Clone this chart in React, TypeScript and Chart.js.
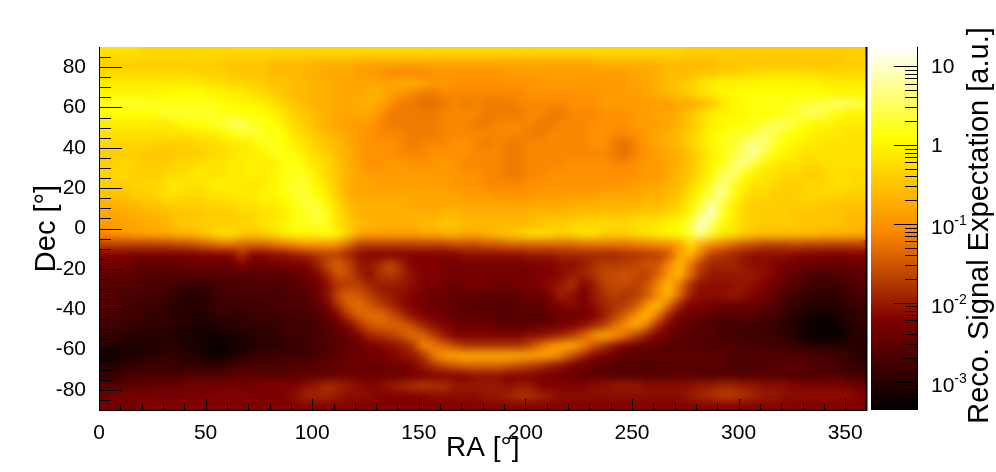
import React, { useEffect, useRef } from "react";
import { Chart, registerables } from "chart.js";

Chart.register(...registerables);

// Signal expectation per 5 degree cell, expressed as 10*log10(value). Columns: RA 2.5 .. 357.5
const decP87 = [-2,-2,-2,-2,-3,-3,-3,-3,-3,-3,-3,-3,-3,-3,-3,-3,-3,-3,-3,-3,-3,-3,-3,-3,-3,-3,-3,-3,-3,-3,-3,-3,-3,-3,-3,-3,-3,-3,-3,-3,-3,-3,-3,-3,-3,-3,-3,-3,-3,-3,-3,-3,-3,-3,-3,-4,-4,-4,-4,-4,-4,-4,-4,-4,-4,-4,-4,-4,-4,-4,-4,-4];
const decP82 = [-4,-4,-4,-4,-4,-4,-4,-4,-4,-4,-4,-4,-5,-5,-5,-5,-6,-6,-6,-6,-7,-7,-7,-7,-8,-8,-8,-8,-8,-8,-8,-8,-8,-8,-8,-8,-8,-8,-8,-8,-8,-8,-8,-8,-8,-8,-8,-7,-7,-7,-7,-7,-7,-6,-6,-6,-6,-6,-5,-5,-5,-5,-5,-5,-5,-5,-5,-5,-5,-5,-4,-4];
const decP77 = [-3,-3,-3,-3,-3,-3,-3,-3,-3,-4,-4,-4,-5,-5,-5,-5,-6,-6,-6,-7,-7,-8,-8,-8,-9,-9,-10,-11,-11,-11,-11,-10,-10,-10,-10,-10,-10,-10,-9,-9,-9,-9,-9,-9,-9,-9,-9,-9,-9,-9,-8,-8,-7,-6,-6,-6,-5,-5,-4,-4,-3,-3,-2,-2,-2,-2,-2,-3,-3,-3,-3,-3];
const decP72 = [-1,-1,-1,-1,-1,-1,-1,-1,-1,-1,-2,-2,-3,-3,-4,-4,-5,-5,-6,-6,-7,-7,-8,-8,-8,-8,-8,-8,-7,-7,-8,-9,-9,-10,-10,-10,-10,-10,-10,-10,-10,-9,-9,-9,-9,-9,-9,-9,-9,-9,-8,-8,-7,-6,-5,-4,-2,-1,0,0,0,0,0,0,0,0,0,0,-1,-1,-1,-1];
const decP67 = [0,0,0,0,0,0,1,1,1,1,0,0,-1,-1,-2,-3,-4,-5,-6,-6,-7,-7,-8,-8,-8,-7,-7,-9,-10,-11,-12,-12,-11,-11,-11,-11,-11,-11,-11,-11,-10,-10,-10,-10,-10,-10,-10,-9,-9,-9,-9,-8,-7,-6,-5,-4,-2,-1,0,0,1,1,1,1,1,1,1,1,1,0,0,0];
const decP62 = [3,3,3,3,3,2,2,2,2,2,2,1,1,0,0,-1,-2,-4,-5,-6,-7,-7,-8,-8,-7,-7,-8,-10,-12,-12,-13,-13,-12,-11,-12,-11,-12,-12,-12,-11,-11,-11,-11,-11,-10,-10,-10,-9,-9,-9,-9,-9,-9,-9,-8,-8,-7,-5,-2,0,1,2,2,2,2,3,3,4,5,6,5,4];
const decP57 = [1,1,1,1,1,2,3,3,3,3,3,2,2,1,1,1,0,-2,-4,-5,-6,-7,-8,-8,-8,-8,-10,-12,-12,-12,-12,-12,-11,-11,-11,-11,-12,-12,-12,-12,-11,-11,-12,-12,-11,-11,-11,-10,-10,-10,-9,-9,-8,-8,-7,-5,-3,-1,0,0,0,1,1,1,2,3,5,5,3,1,0,0];
const decP52 = [-1,-1,-1,-1,-1,-1,-1,0,1,1,2,3,5,5,3,2,1,-1,-3,-4,-6,-7,-8,-9,-9,-9,-11,-12,-12,-12,-12,-12,-11,-11,-11,-12,-12,-11,-11,-11,-11,-12,-12,-11,-11,-11,-10,-10,-10,-10,-9,-9,-9,-8,-7,-5,-3,-1,0,1,1,2,3,5,5,3,1,0,0,-1,-1,-1];
const decP47 = [-2,-2,-2,-2,-2,-2,-2,-2,-2,-1,-1,0,1,3,3,2,2,1,-2,-3,-5,-6,-7,-8,-9,-10,-11,-11,-11,-12,-12,-12,-11,-11,-11,-11,-11,-11,-11,-11,-12,-12,-11,-11,-11,-11,-10,-10,-11,-11,-10,-9,-8,-7,-6,-4,-2,0,1,2,3,4,6,4,2,1,0,-1,-1,-1,-2,-2];
const decP42 = [-3,-3,-3,-3,-3,-4,-4,-4,-4,-3,-3,-2,-1,-1,0,2,2,1,-1,-2,-4,-5,-6,-8,-9,-10,-10,-10,-11,-12,-11,-11,-11,-10,-10,-11,-12,-11,-12,-12,-11,-11,-11,-11,-11,-11,-10,-10,-12,-13,-11,-9,-8,-7,-6,-4,-2,0,2,3,5,7,6,3,1,0,-1,-1,-2,-2,-2,-2];
const decP37 = [-4,-4,-4,-4,-5,-5,-5,-4,-4,-4,-3,-3,-2,-1,-1,0,2,2,1,-1,-3,-4,-6,-7,-9,-10,-10,-10,-11,-11,-11,-10,-10,-10,-10,-11,-11,-11,-12,-12,-11,-11,-11,-11,-11,-11,-11,-11,-12,-13,-11,-10,-9,-8,-7,-5,-3,-1,1,3,6,8,4,1,0,-1,-2,-2,-2,-2,-2,-2];
const decP32 = [-4,-4,-3,-3,-4,-4,-4,-3,-3,-2,-2,-2,-1,-1,0,-1,-1,1,2,0,-2,-3,-5,-7,-9,-10,-10,-9,-9,-10,-10,-10,-9,-10,-11,-11,-11,-11,-12,-12,-11,-11,-11,-11,-10,-10,-10,-10,-11,-11,-10,-9,-9,-8,-7,-5,-3,0,2,5,7,3,0,-1,-2,-2,-3,-3,-2,-2,-2,-2];
const decP27 = [-3,-3,-3,-4,-4,-4,-3,-3,-2,-1,-2,-2,-1,-1,0,-1,0,2,2,2,-1,-3,-5,-7,-8,-9,-9,-9,-9,-9,-9,-9,-9,-9,-10,-10,-11,-11,-12,-12,-11,-11,-10,-10,-10,-10,-10,-10,-10,-10,-10,-9,-9,-8,-6,-5,-2,0,4,7,2,0,-2,-2,-3,-3,-4,-4,-3,-2,-3,-3];
const decP22 = [-4,-4,-4,-3,-3,-3,-2,-1,-2,-2,-1,0,-1,-1,-2,-1,0,2,3,3,0,-2,-5,-7,-8,-8,-9,-9,-9,-9,-9,-9,-9,-10,-10,-10,-11,-11,-11,-11,-10,-10,-10,-10,-10,-10,-10,-10,-10,-10,-9,-9,-8,-7,-6,-4,-1,3,7,3,0,-2,-2,-3,-4,-4,-3,-3,-3,-2,-2,-3];
const decP17 = [-5,-5,-5,-4,-4,-3,-2,-2,-3,-3,-2,-2,-1,-1,-1,0,0,1,3,3,1,-1,-4,-7,-8,-8,-8,-8,-8,-8,-8,-8,-8,-8,-9,-9,-9,-10,-10,-10,-10,-9,-9,-9,-9,-9,-9,-8,-8,-8,-8,-7,-7,-6,-5,-2,1,4,8,2,-1,-3,-3,-4,-4,-4,-3,-3,-3,-3,-4,-4];
const decP12 = [-7,-7,-6,-6,-5,-5,-4,-4,-4,-4,-3,-3,-3,-2,-2,-1,-1,0,2,4,3,0,-3,-6,-7,-7,-7,-7,-7,-8,-8,-8,-8,-8,-8,-8,-8,-8,-8,-8,-8,-8,-8,-8,-7,-7,-7,-7,-7,-7,-7,-6,-6,-5,-4,-1,3,9,4,0,-3,-4,-4,-4,-4,-4,-4,-4,-5,-5,-5,-5];
const decP07 = [-8,-8,-8,-7,-7,-6,-6,-5,-5,-5,-4,-4,-4,-3,-3,-2,-2,-1,1,2,4,2,-2,-5,-7,-7,-7,-7,-7,-7,-7,-7,-6,-6,-7,-7,-7,-7,-7,-7,-6,-6,-6,-6,-6,-5,-5,-5,-5,-5,-4,-4,-4,-3,-2,1,6,10,3,0,-3,-4,-4,-4,-4,-5,-5,-5,-5,-5,-6,-6];
const decP02 = [-9,-9,-8,-8,-7,-7,-6,-5,-4,-4,-4,-4,-4,-4,-3,-2,-1,0,2,2,3,2,-2,-4,-6,-6,-7,-7,-7,-7,-6,-6,-5,-5,-6,-6,-6,-6,-6,-6,-6,-5,-4,-4,-3,-3,-3,-2,-3,-3,-2,-2,-1,0,1,4,11,6,1,-1,-3,-4,-4,-5,-4,-4,-5,-5,-5,-5,-6,-6];
const decM02 = [-11,-10,-10,-9,-9,-8,-8,-7,-7,-6,-4,-2,-2,-4,-5,-4,-3,-1,0,0,0,2,0,-4,-8,-9,-9,-9,-9,-9,-8,-8,-7,-7,-8,-8,-7,-6,-5,-4,-2,-2,-3,-4,-3,-2,-2,-4,-4,-4,-3,-2,-1,0,0,3,7,3,-1,-2,-4,-5,-6,-5,-6,-6,-6,-6,-7,-7,-7,-8];
const decM07 = [-17,-17,-17,-17,-17,-17,-17,-16,-16,-15,-14,-13,-13,-14,-14,-14,-13,-12,-11,-10,-10,-10,-11,-14,-17,-17,-17,-17,-17,-17,-17,-17,-17,-16,-16,-16,-15,-15,-14,-14,-14,-14,-14,-14,-14,-13,-13,-13,-13,-13,-12,-12,-11,-11,-9,-3,-7,-11,-12,-14,-15,-16,-17,-17,-17,-16,-17,-17,-17,-17,-17,-17];
const decM12 = [-22,-22,-22,-23,-23,-23,-23,-23,-23,-22,-22,-22,-22,-18,-22,-22,-21,-21,-20,-19,-18,-17,-17,-19,-21,-22,-22,-22,-22,-22,-22,-22,-22,-22,-21,-21,-21,-21,-21,-21,-20,-20,-20,-19,-19,-19,-19,-19,-19,-18,-18,-17,-17,-15,-9,-6,-12,-17,-18,-19,-20,-21,-21,-21,-21,-22,-22,-22,-23,-23,-22,-22];
const decM17 = [-24,-24,-24,-25,-25,-25,-25,-25,-24,-24,-24,-24,-24,-22,-24,-23,-23,-22,-22,-22,-20,-16,-14,-16,-20,-20,-18,-16,-19,-22,-22,-22,-23,-23,-23,-23,-23,-23,-23,-23,-23,-22,-22,-21,-21,-20,-18,-17,-17,-17,-16,-15,-15,-11,-6,-12,-17,-19,-19,-19,-20,-21,-21,-22,-23,-23,-24,-24,-24,-25,-24,-24];
const decM22 = [-25,-25,-25,-25,-26,-26,-26,-26,-26,-26,-26,-26,-26,-26,-26,-26,-26,-26,-25,-24,-22,-19,-15,-16,-19,-21,-18,-17,-19,-21,-22,-22,-23,-23,-23,-23,-23,-23,-23,-23,-23,-22,-22,-21,-20,-19,-18,-16,-16,-15,-16,-17,-14,-10,-6,-13,-18,-20,-20,-20,-20,-20,-21,-22,-24,-25,-26,-27,-27,-26,-26,-25];
const decM27 = [-26,-26,-26,-26,-27,-27,-27,-28,-29,-29,-28,-27,-27,-27,-26,-26,-27,-26,-26,-25,-24,-21,-18,-17,-17,-19,-20,-20,-20,-21,-22,-23,-23,-24,-23,-23,-23,-24,-24,-23,-23,-22,-21,-20,-18,-22,-20,-17,-16,-16,-17,-15,-11,-6,-12,-18,-21,-21,-21,-21,-20,-21,-22,-24,-25,-26,-27,-28,-28,-28,-27,-26];
const decM32 = [-26,-26,-27,-27,-27,-28,-28,-29,-30,-30,-29,-28,-27,-27,-27,-27,-27,-27,-26,-26,-24,-21,-16,-14,-15,-17,-19,-20,-21,-22,-23,-24,-24,-25,-25,-25,-25,-25,-25,-25,-24,-24,-22,-19,-21,-23,-20,-18,-17,-18,-17,-15,-11,-6,-13,-19,-21,-21,-21,-20,-21,-22,-23,-25,-27,-28,-29,-29,-29,-29,-28,-27];
const decM37 = [-26,-26,-27,-28,-28,-28,-29,-30,-30,-30,-29,-28,-28,-28,-28,-28,-27,-27,-27,-26,-25,-23,-18,-14,-13,-15,-17,-19,-21,-22,-23,-24,-24,-25,-25,-26,-26,-26,-26,-25,-25,-25,-23,-22,-21,-23,-21,-19,-18,-17,-15,-10,-6,-13,-19,-22,-22,-23,-24,-24,-24,-24,-25,-26,-28,-29,-30,-30,-30,-30,-29,-28];
const decM42 = [-27,-27,-28,-28,-29,-29,-29,-30,-30,-31,-30,-29,-29,-29,-28,-28,-28,-28,-27,-27,-26,-25,-22,-17,-14,-13,-13,-15,-18,-21,-22,-23,-24,-25,-25,-25,-25,-26,-26,-26,-26,-26,-25,-24,-24,-23,-22,-20,-17,-14,-10,-6,-12,-19,-23,-24,-25,-25,-26,-26,-26,-26,-27,-27,-29,-30,-31,-32,-32,-31,-30,-29];
const decM47 = [-28,-28,-28,-29,-29,-29,-29,-30,-30,-31,-31,-30,-30,-29,-29,-29,-29,-28,-28,-28,-27,-26,-24,-22,-18,-15,-14,-14,-14,-16,-19,-21,-22,-23,-24,-24,-24,-25,-25,-25,-25,-24,-24,-23,-22,-21,-19,-17,-13,-10,-7,-12,-19,-22,-24,-25,-26,-26,-27,-27,-27,-28,-28,-29,-30,-31,-32,-33,-33,-32,-30,-29];
const decM52 = [-29,-29,-30,-30,-30,-30,-30,-31,-31,-32,-32,-32,-31,-31,-30,-29,-29,-28,-28,-28,-27,-26,-25,-24,-22,-19,-18,-17,-15,-13,-14,-17,-20,-22,-22,-22,-22,-22,-22,-22,-21,-21,-20,-19,-17,-14,-10,-7,-10,-13,-17,-20,-22,-24,-25,-26,-26,-26,-27,-27,-28,-28,-28,-28,-29,-30,-32,-33,-33,-33,-31,-30];
const decM57 = [-30,-30,-31,-31,-31,-30,-30,-30,-31,-31,-32,-33,-32,-31,-31,-30,-30,-29,-29,-28,-27,-27,-26,-25,-24,-23,-22,-21,-20,-18,-11,-12,-14,-16,-18,-18,-18,-18,-18,-18,-16,-13,-10,-8,-7,-11,-15,-18,-21,-23,-24,-25,-25,-26,-26,-26,-26,-27,-27,-27,-27,-27,-28,-28,-28,-29,-30,-30,-30,-30,-30,-30];
const decM62 = [-32,-32,-31,-31,-30,-30,-29,-29,-30,-31,-32,-32,-31,-30,-29,-28,-28,-28,-28,-28,-27,-26,-25,-24,-24,-23,-23,-22,-21,-20,-18,-12,-9,-8,-7,-7,-7,-7,-7,-7,-8,-8,-9,-12,-16,-19,-22,-23,-24,-25,-25,-25,-25,-25,-25,-25,-25,-25,-25,-26,-26,-26,-26,-26,-26,-26,-26,-27,-27,-28,-29,-30];
const decM67 = [-30,-30,-29,-29,-28,-28,-28,-29,-29,-29,-29,-29,-28,-27,-27,-27,-27,-27,-26,-26,-25,-25,-25,-24,-24,-24,-24,-23,-23,-22,-20,-18,-16,-15,-14,-14,-14,-14,-15,-16,-17,-18,-20,-21,-23,-24,-25,-25,-26,-26,-26,-27,-26,-26,-26,-26,-26,-26,-26,-27,-27,-27,-26,-26,-26,-26,-26,-27,-27,-28,-28,-29];
const decM72 = [-29,-29,-28,-27,-27,-27,-27,-27,-26,-26,-26,-26,-25,-25,-25,-25,-25,-25,-25,-25,-25,-25,-24,-24,-24,-24,-24,-24,-24,-23,-23,-22,-22,-22,-22,-21,-21,-21,-22,-22,-22,-23,-23,-24,-24,-25,-25,-25,-26,-26,-26,-26,-26,-26,-25,-25,-26,-26,-26,-26,-26,-26,-26,-26,-26,-26,-26,-26,-26,-26,-27,-27];
const decM77 = [-26,-26,-25,-25,-25,-24,-24,-24,-23,-23,-23,-23,-23,-23,-23,-22,-22,-22,-22,-21,-20,-18,-19,-20,-21,-22,-21,-20,-19,-18,-17,-18,-18,-20,-20,-20,-20,-20,-21,-20,-20,-22,-22,-22,-22,-22,-21,-21,-20,-20,-20,-21,-21,-21,-21,-21,-20,-20,-19,-19,-20,-20,-21,-21,-21,-22,-22,-22,-22,-22,-23,-24];
const decM82 = [-24,-23,-23,-23,-23,-23,-23,-23,-23,-23,-23,-22,-22,-22,-23,-23,-23,-22,-21,-19,-19,-19,-20,-21,-21,-21,-22,-22,-22,-22,-22,-21,-21,-21,-21,-21,-20,-20,-19,-18,-18,-19,-20,-21,-21,-21,-21,-21,-21,-21,-21,-21,-21,-21,-21,-20,-19,-18,-17,-17,-18,-19,-20,-20,-21,-21,-21,-21,-21,-21,-21,-22];
const decM87 = [-23,-23,-23,-23,-22,-22,-22,-22,-22,-22,-22,-22,-22,-22,-22,-22,-22,-22,-22,-22,-22,-22,-22,-22,-22,-22,-22,-22,-22,-22,-22,-22,-22,-22,-22,-22,-22,-22,-22,-22,-22,-22,-22,-22,-22,-22,-22,-22,-22,-22,-22,-22,-22,-22,-22,-22,-22,-22,-22,-22,-22,-22,-22,-22,-22,-22,-22,-22,-22,-22,-22,-22];

const heatRows = [decP87,decP82,decP77,decP72,decP67,decP62,decP57,decP52,decP47,decP42,decP37,decP32,decP27,decP22,decP17,decP12,decP07,decP02,decM02,decM07,decM12,decM17,decM22,decM27,decM32,decM37,decM42,decM47,decM52,decM57,decM62,decM67,decM72,decM77,decM82,decM87];

const xLabels = [0, 50, 100, 150, 200, 250, 300, 350];
const xMajor = [50, 100, 150, 200, 250, 300, 350];
const xMinor = [10,20,30,40,60,70,80,90,110,120,130,140,160,170,180,190,210,220,230,240,260,270,280,290,310,320,330,340];
const yMajor = [-80,-60,-40,-20,0,20,40,60,80];
const yMinor = [-85,-75,-70,-65,-55,-50,-45,-35,-30,-25,-15,-10,-5,5,10,15,25,30,35,45,50,55,65,70,75,85];

const barLabels = [
  { value: 10, base: "10", exp: "" },
  { value: 1, base: "1", exp: "" },
  { value: 0.1, base: "10", exp: "-1" },
  { value: 0.01, base: "10", exp: "-2" },
  { value: 0.001, base: "10", exp: "-3" },
];
const barMinor = [0.0005,0.0006,0.0007,0.0008,0.0009,0.002,0.003,0.004,0.005,0.006,0.007,0.008,0.009,0.02,0.03,0.04,0.05,0.06,0.07,0.08,0.09,0.2,0.3,0.4,0.5,0.6,0.7,0.8,0.9,2,3,4,5,6,7,8,9];
const barRange = [0.00044, 17.4];

// Palette stops: position along the colour bar, red, green, blue
const stopAt = [0, 0.25, 0.5, 0.75, 1];
const stopR = [0, 128, 255, 255, 255];
const stopG = [0, 0, 140, 255, 255];
const stopB = [0, 0, 0, 0, 255];

const FONT = '"Liberation Sans", Arial, sans-serif';

function colorFor(level: number): string {
  const lo = Math.log10(barRange[0]);
  const hi = Math.log10(barRange[1]);
  const t = Math.max(0, Math.min(1, (level / 10 - lo) / (hi - lo)));
  let i = 0;
  while (i < stopAt.length - 2 && t > stopAt[i + 1]) i++;
  const f = (t - stopAt[i]) / (stopAt[i + 1] - stopAt[i]);
  const mix = (a: number[]) => Math.round(a[i] + (a[i + 1] - a[i]) * f);
  return `rgb(${mix(stopR)},${mix(stopG)},${mix(stopB)})`;
}

const smoothPlugin = {
  id: "smoothCells",
  afterDatasetsDraw(chart: any) {
    const { ctx, chartArea: a } = chart;
    ctx.save();
    ctx.beginPath();
    ctx.rect(a.left, a.top, a.right - a.left, a.bottom - a.top);
    ctx.clip();
    ctx.filter = "blur(4px)";
    ctx.drawImage(ctx.canvas, 0, 0);
    ctx.restore();
  },
};

const mainTicksPlugin = {
  id: "mainTicks",
  afterDraw(chart: any) {
    const { ctx, chartArea: a, scales } = chart;
    ctx.save();
    ctx.strokeStyle = "#000";
    ctx.lineWidth = 1;
    ctx.beginPath();
    const v = (val: number, len: number) => {
      const x = Math.round(scales.x.getPixelForValue(val)) + 0.5;
      ctx.moveTo(x, a.bottom);
      ctx.lineTo(x, a.bottom - len);
    };
    const h = (val: number, len: number) => {
      const y = Math.round(scales.y.getPixelForValue(val)) + 0.5;
      ctx.moveTo(a.left, y);
      ctx.lineTo(a.left + len, y);
    };
    xMajor.forEach((t) => v(t, 11));
    xMinor.forEach((t) => v(t, 6));
    yMajor.forEach((t) => h(t, 23));
    yMinor.forEach((t) => h(t, 12));
    ctx.stroke();
    ctx.fillStyle = "#000";
    ctx.fillRect(a.right - 1, a.top, 2, a.bottom - a.top + 1);
    ctx.restore();
  },
};

const barAxisPlugin = {
  id: "barAxis",
  afterDraw(chart: any) {
    const { ctx, chartArea: a, scales } = chart;
    ctx.save();
    ctx.strokeStyle = "#000";
    ctx.lineWidth = 1;
    ctx.beginPath();
    const tick = (val: number, len: number) => {
      const y = Math.round(scales.y.getPixelForValue(val)) + 0.5;
      ctx.moveTo(a.right, y);
      ctx.lineTo(a.right - len, y);
    };
    barLabels.forEach((l) => tick(l.value, 23));
    barMinor.forEach((t) => tick(t, 12));
    ctx.moveTo(a.right + 0.5, a.top);
    ctx.lineTo(a.right + 0.5, a.bottom);
    ctx.stroke();
    ctx.fillStyle = "#000";
    ctx.textBaseline = "alphabetic";
    ctx.textAlign = "left";
    barLabels.forEach((l) => {
      const y = scales.y.getPixelForValue(l.value);
      const offset = l.exp ? 10 : 7;
      const lx = a.right + 14;
      ctx.font = `21px ${FONT}`;
      ctx.fillText(l.base, lx, y + offset);
      if (l.exp) {
        const w = ctx.measureText(l.base).width;
        ctx.font = `14px ${FONT}`;
        ctx.fillText(l.exp, lx + w, y + offset - 9);
      }
    });
    ctx.translate(a.right + 63, (a.top + a.bottom) / 2 - 3);
    ctx.rotate(-Math.PI / 2);
    ctx.textAlign = "center";
    ctx.textBaseline = "middle";
    ctx.font = `29px ${FONT}`;
    ctx.fillText("Reco. Signal Expectation [a.u.]", 0, 0);
    ctx.restore();
  },
};

export default function App() {
  const mainRef = useRef<HTMLCanvasElement>(null);
  const barRef = useRef<HTMLCanvasElement>(null);

  useEffect(() => {
    const datasets = heatRows.map((row, r) => ({
      label: `Dec ${87.5 - r * 5}`,
      grouped: false,
      data: row.map((_, c) => ({ x: 2.5 + c * 5, y: [85 - r * 5, 90 - r * 5] })),
      backgroundColor: row.map(colorFor),
      borderWidth: 0,
      inflateAmount: 1,
      barPercentage: 1,
      categoryPercentage: 1,
    }));
    const main = new Chart(mainRef.current as HTMLCanvasElement, {
      type: "bar",
      data: { datasets } as any,
      plugins: [smoothPlugin, mainTicksPlugin],
      options: {
        animation: false,
        responsive: false,
        devicePixelRatio: 1,
        layout: { padding: { left: 0, right: 129.5, top: 47, bottom: 0 } },
        plugins: { legend: { display: false }, tooltip: { enabled: false } },
        scales: {
          x: {
            type: "linear",
            min: 0,
            max: 360,
            offset: false,
            grid: { display: false, offset: false },
            border: { display: true, color: "#000", width: 1, z: 2 },
            ticks: { color: "#000", font: { family: FONT, size: 21 }, padding: 3, maxRotation: 0 },
            afterBuildTicks: (s: any) => { s.ticks = xLabels.map((value) => ({ value })); },
            title: { display: true, text: "RA [°]", color: "#000", font: { family: FONT, size: 28 }, padding: { top: 0, bottom: 7 } },
            afterFit: (s: any) => { s.height = 62; },
          },
          y: {
            type: "linear",
            min: -90,
            max: 90,
            grid: { display: false },
            border: { display: true, color: "#000", width: 1, z: 2 },
            ticks: { color: "#000", font: { family: FONT, size: 21 }, padding: 5 },
            afterBuildTicks: (s: any) => { s.ticks = yMajor.map((value) => ({ value })); },
            title: { display: true, text: "Dec [°]", color: "#000", font: { family: FONT, size: 29 }, padding: { top: 30, bottom: 0 } },
            afterFit: (s: any) => { s.width = 99; },
          },
        },
      } as any,
    });

    const bar = new Chart(barRef.current as HTMLCanvasElement, {
      type: "bar",
      data: {
        labels: ["palette"],
        datasets: [{
          data: [barRange],
          borderWidth: 0,
          barPercentage: 1,
          categoryPercentage: 1,
          backgroundColor: (c: any) => {
            const a = c.chart.chartArea;
            if (!a) return "#000";
            const g = c.chart.ctx.createLinearGradient(0, a.bottom, 0, a.top);
            stopAt.forEach((s, i) => g.addColorStop(s, `rgb(${stopR[i]},${stopG[i]},${stopB[i]})`));
            return g;
          },
        }],
      } as any,
      plugins: [barAxisPlugin],
      options: {
        animation: false,
        responsive: false,
        devicePixelRatio: 1,
        layout: { padding: { left: 4, right: 79, top: 47, bottom: 62 } },
        plugins: { legend: { display: false }, tooltip: { enabled: false } },
        scales: {
          x: { display: false },
          y: { type: "logarithmic", display: false, min: barRange[0], max: barRange[1] },
        },
      } as any,
    });
    return () => { main.destroy(); bar.destroy(); };
  }, []);

  return (
    <div style={{ position: "fixed", left: 0, top: 0, width: 996, height: 472, background: "#fff" }}>
      <canvas ref={mainRef} width={996} height={472} style={{ position: "absolute", left: 0, top: 0 }} />
      <canvas ref={barRef} width={129} height={472} style={{ position: "absolute", left: 867, top: 0 }} />
    </div>
  );
}
